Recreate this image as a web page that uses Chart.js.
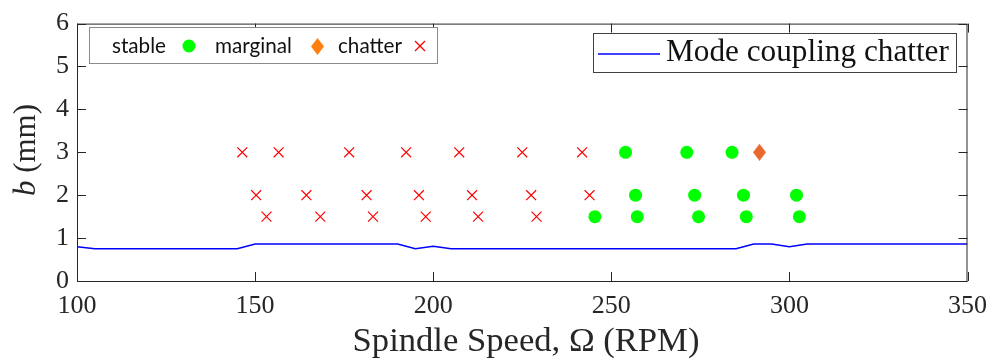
<!DOCTYPE html>
<html>
<head>
<meta charset="utf-8">
<script src="https://cdn.jsdelivr.net/npm/chart.js@4.4.0/dist/chart.umd.min.js"></script>
<style>
  html, body { margin: 0; padding: 0; background: #fff; }
  #wrap { width: 997px; height: 363px; }
</style>
</head>
<body>
<div id="wrap"><canvas id="chart" width="997" height="363"></canvas></div>
<script>
// mode coupling chatter boundary (b limit vs spindle speed)
var boundaryRpm = [100, 105, 145, 150, 190, 195, 200, 205, 285, 290, 295, 300, 305, 350];
var boundaryB   = [0.80, 0.75, 0.75, 0.86, 0.86, 0.75, 0.81, 0.75, 0.75, 0.86, 0.86, 0.80, 0.86, 0.86];

// cutting tests
var stableRpm = [254.0, 271.2, 283.9, 256.8, 273.4, 287.1, 302.0, 245.4, 257.3, 274.5, 287.9, 302.8];
var stableB   = [3, 3, 3, 2, 2, 2, 2, 1.5, 1.5, 1.5, 1.5, 1.5];

var marginalRpm = [291.6];
var marginalB   = [3];

var chatterRpm = [146.4, 156.6, 176.4, 192.4, 207.3, 225.0, 241.8,
                  150.3, 164.4, 181.3, 196.0, 210.9, 227.5, 243.9,
                  153.2, 168.3, 183.1, 197.9, 212.6, 229.0];
var chatterB   = [3, 3, 3, 3, 3, 3, 3,
                  2, 2, 2, 2, 2, 2, 2,
                  1.5, 1.5, 1.5, 1.5, 1.5, 1.5];

var xTicks = [100, 150, 200, 250, 300, 350];
var yTicks = [0, 1, 2, 3, 4, 5, 6];

var axisColor = '#262626';

function pts(xs, ys) {
	var out = [];
	for (var i = 0; i < xs.length; i++) out.push({ x: xs[i], y: ys[i] });
	return out;
}

// taller-than-wide diamond like the matlab marker
function diamond(color, w, h) {
	var c = document.createElement('canvas');
	c.width = w; c.height = h;
	var g = c.getContext('2d');
	g.fillStyle = color;
	g.beginPath();
	g.moveTo(w / 2, 0); g.lineTo(w, h / 2); g.lineTo(w / 2, h); g.lineTo(0, h / 2);
	g.closePath();
	g.fill();
	return c;
}

// font size that makes text span the given width
function fit(ctx, text, family, width, style) {
	ctx.font = (style || '') + ' 100px ' + family;
	return 100 * width / ctx.measureText(text).width;
}

function line(ctx, x1, y1, x2, y2) {
	ctx.beginPath(); ctx.moveTo(x1, y1); ctx.lineTo(x2, y2); ctx.stroke();
}

var frame = {
	id: 'frame',
	afterDatasetsDraw: function(chart) {
		var ctx = chart.ctx, a = chart.chartArea;
		var xs = chart.scales.x, ys = chart.scales.y;
		ctx.save();

		// box + inward ticks
		ctx.strokeStyle = axisColor;
		ctx.lineWidth = 1;
		ctx.strokeRect(a.left + 0.5, a.top + 0.5, a.right - a.left - 1, a.bottom - a.top);
		xTicks.forEach(function(v) {
			var p = Math.round(xs.getPixelForValue(v)) + 0.5;
			line(ctx, p, a.bottom, p, a.bottom - 9);
			line(ctx, p, a.top, p, a.top + 9);
		});
		yTicks.forEach(function(v) {
			var p = Math.round(ys.getPixelForValue(v)) + 0.5;
			line(ctx, a.left, p, a.left + 9, p);
			line(ctx, a.right, p, a.right - 9, p);
		});

		// axis titles
		ctx.fillStyle = axisColor;
		ctx.textBaseline = 'middle';
		ctx.textAlign = 'center';
		var t = 'Spindle Speed, \u03A9 (RPM)';
		var s = fit(ctx, t, 'Liberation Serif', 347);
		ctx.font = s + 'px Liberation Serif';
		ctx.fillText(t, 526, 342);

		ctx.save();
		ctx.translate(27, 150);
		ctx.rotate(-Math.PI / 2);
		ctx.textAlign = 'left';
		ctx.font = 'italic 31px Liberation Serif';
		var wb = ctx.measureText('b ').width;
		ctx.font = '31px Liberation Serif';
		var wr = ctx.measureText('(mm)').width;
		var x0 = -(wb + wr) / 2;
		ctx.font = 'italic 31px Liberation Serif';
		ctx.fillText('b', x0, 0);
		ctx.font = '31px Liberation Serif';
		ctx.fillText('(mm)', x0 + wb, 0);
		ctx.restore();

		// legend 1 (markers after labels)
		ctx.fillStyle = '#fff';
		ctx.fillRect(89, 27, 349, 37);
		ctx.strokeStyle = '#8a8a8a';
		ctx.strokeRect(89.5, 27.5, 348, 36);
		ctx.fillStyle = '#111';
		ctx.textAlign = 'left';
		var fs = fit(ctx, 'stable', 'Lato', 54);
		ctx.font = fs + 'px Lato';
		ctx.fillText('stable', 112, 46);
		ctx.fillText('marginal', 215, 46);
		ctx.fillText('chatter', 338, 46);
		ctx.fillStyle = '#00ff00';
		ctx.beginPath(); ctx.arc(189, 46, 6.5, 0, Math.PI * 2); ctx.fill();
		ctx.drawImage(diamond('#ff7f0e', 13, 17), 311, 38);
		ctx.strokeStyle = '#ff0000';
		ctx.lineWidth = 1.2;
		line(ctx, 415, 41, 425, 51);
		line(ctx, 425, 41, 415, 51);

		// legend 2
		ctx.lineWidth = 1;
		ctx.fillStyle = '#fff';
		ctx.fillRect(593, 33, 364, 40);
		ctx.strokeStyle = '#404040';
		ctx.strokeRect(593.5, 33.5, 363, 39);
		ctx.strokeStyle = '#0000ff';
		ctx.lineWidth = 1.5;
		line(ctx, 598, 54, 660, 54);
		ctx.fillStyle = '#111';
		var t2 = 'Mode coupling chatter';
		var s2 = fit(ctx, t2, 'Liberation Serif', 283);
		ctx.font = s2 + 'px Liberation Serif';
		ctx.fillText(t2, 666, 53);

		ctx.restore();
	}
};

new Chart(document.getElementById('chart'), {
	type: 'scatter',
	data: {
		datasets: [{
			type: 'line',
			label: 'Mode coupling chatter',
			data: pts(boundaryRpm, boundaryB),
			borderColor: '#0000ff',
			borderWidth: 1.5,
			pointRadius: 0,
			tension: 0,
			fill: false
		}, {
			label: 'stable',
			data: pts(stableRpm, stableB),
			pointStyle: 'circle',
			pointRadius: 6.5,
			backgroundColor: '#00ff00',
			borderWidth: 0
		}, {
			label: 'marginal',
			data: pts(marginalRpm, marginalB),
			pointStyle: diamond('#e8692e', 13, 17),
			pointRadius: 8
		}, {
			label: 'chatter',
			data: pts(chatterRpm, chatterB),
			pointStyle: 'crossRot',
			pointRadius: 7,
			borderColor: '#ff0000',
			borderWidth: 1.2
		}]
	},
	options: {
		responsive: false,
		animation: false,
		events: [],
		layout: { padding: { left: 0, top: 20, right: 24, bottom: 0 } },
		plugins: { legend: { display: false }, tooltip: { enabled: false } },
		scales: {
			x: {
				type: 'linear', min: 100, max: 350,
				afterBuildTicks: function(s) { s.ticks = xTicks.map(function(v) { return { value: v }; }); },
				afterFit: function(s) { s.height = 82; },
				grid: { display: false, drawTicks: false },
				border: { display: false },
				ticks: { color: axisColor, padding: 10, maxRotation: 0,
					font: { family: 'Liberation Serif', size: 26 } }
			},
			y: {
				type: 'linear', min: 0, max: 6,
				afterBuildTicks: function(s) { s.ticks = yTicks.map(function(v) { return { value: v }; }); },
				afterFit: function(s) { s.width = 77; },
				grid: { display: false, drawTicks: false },
				border: { display: false },
				ticks: { color: axisColor, padding: 8,
					font: { family: 'Liberation Serif', size: 26 } }
			}
		}
	},
	plugins: [frame]
});
</script>
</body>
</html>
